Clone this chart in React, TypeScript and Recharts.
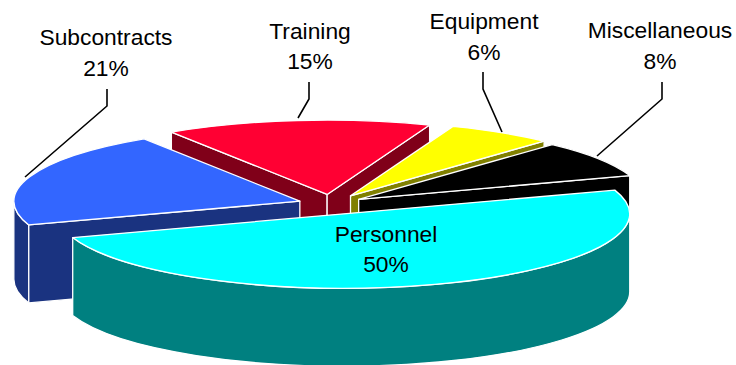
import { Pie, PieChart } from 'recharts'

const names = ['Training', 'Equipment', 'Miscellaneous', 'Personnel', 'Subcontracts']
const shares = [15, 6, 8, 50, 21]
const topColors = ['#ff0033', '#ffff00', '#000000', '#00ffff', '#3366ff']
const wallColors = ['#800019', '#808000', '#000000', '#008080', '#1a3380']
const explodeBy = [37, 37, 33, 40, 33]

const slices = names.map((name, i) => ({
  name,
  value: shares[i],
  top: topColors[i],
  wall: wallColors[i],
  explode: explodeBy[i],
}))

// label anchor: centre x, first baseline, second baseline, leader line
const labelSpots: Record<string, { x: number; y1: number; y2: number; leader?: string }> = {
  Subcontracts: { x: 106, y1: 45, y2: 76, leader: '107,89 107,106 25,177' },
  Training: { x: 310, y1: 39, y2: 69, leader: '309,82 309,99 298,118' },
  Equipment: { x: 484, y1: 29, y2: 60, leader: '483,72 483,89 502,132' },
  Miscellaneous: { x: 660, y1: 38, y2: 69, leader: '662,82 662,99 597,156' },
  Personnel: { x: 386, y1: 242, y2: 272 },
}

const TILT = 0.26
const DEPTH = 78
const START_ANGLE = 123
const CX = 331
const CY = 204
const RADIUS = 286

const rad = (deg: number) => (deg * Math.PI) / 180

// One exploded wedge of the tilted pie: visible cut faces, front rim, then the top.
function TiltedSlice(props: any) {
  const { startAngle, endAngle, cx, cy, outerRadius: r, top, wall, explode } = props
  const mid = (startAngle + endAngle) / 2
  const ax = cx + explode * Math.cos(rad(mid))
  const ay = cy - explode * TILT * Math.sin(rad(mid))
  const px = (a: number) => ax + r * Math.cos(rad(a))
  const py = (a: number) => ay - r * TILT * Math.sin(rad(a))
  const ry = r * TILT
  const arc = (from: number, to: number, dy = 0) => {
    const large = Math.abs(to - from) > 180 ? 1 : 0
    const sweep = to < from ? 1 : 0
    return `A${r},${ry} 0 ${large} ${sweep} ${px(to)},${py(to) + dy}`
  }
  const lo = Math.min(startAngle, endAngle)
  const hi = Math.max(startAngle, endAngle)

  const rims: [number, number][] = []
  for (let k = -2; k <= 2; k++) {
    const a = Math.min(hi, 360 * k)
    const b = Math.max(lo, 360 * k - 180)
    if (a > b) rims.push([a, b])
  }
  const face = (a: number) =>
    `M${ax},${ay} L${px(a)},${py(a)} L${px(a)},${py(a) + DEPTH} L${ax},${ay + DEPTH} Z`

  const edge = { stroke: '#ffffff', strokeWidth: 1.3, strokeLinejoin: 'round' as const }
  return (
    <g>
      {rims.map(([a, b]) => (
        <path
          key={a}
          d={`M${px(a)},${py(a)} ${arc(a, b)} L${px(b)},${py(b) + DEPTH} ${arc(b, a, DEPTH)} Z`}
          fill={wall}
          {...edge}
        />
      ))}
      {Math.cos(rad(hi)) < 0 && <path d={face(hi)} fill={wall} {...edge} />}
      {Math.cos(rad(lo)) > 0 && <path d={face(lo)} fill={wall} {...edge} />}
      <path d={`M${ax},${ay} L${px(hi)},${py(hi)} ${arc(hi, lo)} Z`} fill={top} {...edge} />
    </g>
  )
}

function SliceLabel(props: any) {
  const spot = labelSpots[props.name]
  const text = { x: spot.x, textAnchor: 'middle' as const, fontFamily: 'Liberation Sans', fontSize: 22.8, fill: '#000000' }
  return (
    <g>
      {spot.leader && <polyline points={spot.leader} fill="none" stroke="#000000" strokeWidth={1.6} />}
      <text {...text} y={spot.y1}>{props.name}</text>
      <text {...text} y={spot.y2}>{props.value}%</text>
    </g>
  )
}

export default function App() {
  return (
    <div style={{ position: 'absolute', left: 0, top: 0, width: 736, height: 365, background: '#ffffff' }}>
      <PieChart width={736} height={365} margin={{ top: 0, right: 0, bottom: 0, left: 0 }}>
        {/* Personnel sits in front of every other wedge, so it gets its own pass */}
        <Pie
          data={slices}
          dataKey="value"
          nameKey="name"
          cx={CX}
          cy={CY}
          outerRadius={RADIUS}
          startAngle={START_ANGLE}
          endAngle={START_ANGLE - 360}
          isAnimationActive={false}
          shape={(p: any) => (p.name === 'Personnel' ? <g /> : <TiltedSlice {...p} />)}
        />
        <Pie
          data={slices}
          dataKey="value"
          nameKey="name"
          cx={CX}
          cy={CY}
          outerRadius={RADIUS}
          startAngle={START_ANGLE}
          endAngle={START_ANGLE - 360}
          isAnimationActive={false}
          labelLine={false}
          label={(p: any) => <SliceLabel {...p} />}
          shape={(p: any) => (p.name === 'Personnel' ? <TiltedSlice {...p} /> : <g />)}
        />
      </PieChart>
    </div>
  )
}
